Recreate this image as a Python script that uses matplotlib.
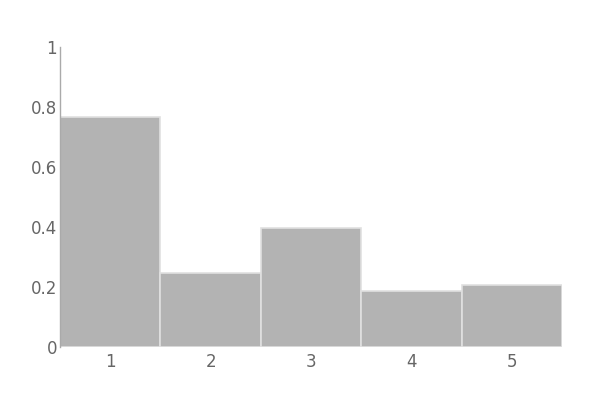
import matplotlib
matplotlib.use("Agg")
import matplotlib.pyplot as plt
from matplotlib.ticker import FuncFormatter

plt.rcParams['font.family'] = ['DejaVu Sans']

categories = [1, 2, 3, 4, 5]
values = [0.767, 0.247, 0.397, 0.187, 0.207]
yticks = [0, 0.2, 0.4, 0.6, 0.8, 1]

fig = plt.figure(figsize=(6, 4), dpi=100)
ax = fig.add_axes([0.1, 0.1325, 0.837, 0.75])

ax.bar(categories, values, width=1.0, color='#b3b3b3', edgecolor='#e0e0e0', linewidth=1.2)

ax.set_xlim(0.5, 5.5)
ax.set_ylim(0, 1)
ax.set_xticks(categories)
ax.set_yticks(yticks)
ax.yaxis.set_major_formatter(FuncFormatter(lambda v, p: ('%g' % round(v, 2))))

for s in ['top', 'right', 'bottom']:
    ax.spines[s].set_visible(False)
ax.spines['left'].set_color('#aaaaaa')
ax.spines['left'].set_linewidth(1)
ax.tick_params(length=0, labelsize=12, colors='#666666')
ax.tick_params(axis='y', pad=2)
ax.tick_params(axis='x', pad=4)

fig.savefig('out.png', dpi=100)
